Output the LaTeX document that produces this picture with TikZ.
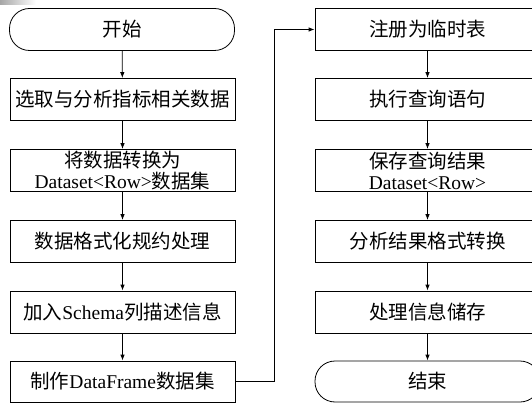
\documentclass[tikz,border=0pt]{standalone}
\usepackage{fontspec}
\setmainfont{Liberation Serif}
\newfontfamily\cjk{Noto Sans CJK SC}
\newcommand{\zh}[1]{{\cjk #1}}
\usetikzlibrary{arrows.meta}
\begin{document}
\begin{tikzpicture}[x=1pt,y=-1pt,
  box/.style={draw,line width=0.8pt,minimum width=225pt,minimum height=42pt,inner sep=0pt,align=center,font=\fontsize{19.5}{21}\selectfont},
  term/.style={box,rounded corners=20pt},
  arr/.style={-{Latex[length=6pt,width=4.5pt]},line width=0.8pt},
  link/.style={line width=0.8pt}]
\useasboundingbox (0,0) rectangle (532,403);
\shade[left color=gray!70,right color=white] (0,0) rectangle (36,5);
% left column
\node[term] (l1) at (122,29.5) {\zh{开始}};
\node[box] (l2) at (122.5,99.5) {\zh{选取与分析指标相关数据}};
\node[box] (l3) at (122.5,170.5) {\zh{将数据转换为}\\Dataset<Row>\zh{数据集}};
\node[box] (l4) at (122.5,241.5) {\zh{数据格式化规约处理}};
\node[box] (l5) at (122.5,312) {\zh{加入}Schema\zh{列描述信息}};
\node[box,minimum height=41pt] (l6) at (122.5,381.5) {\zh{制作}DataFrame\zh{数据集}};
% right column
\node[box] (r1) at (427.5,29.5) {\zh{注册为临时表}};
\node[box] (r2) at (427.5,99.5) {\zh{执行查询语句}};
\node[box] (r3) at (427.5,170.5) {\zh{保存查询结果}\\Dataset<Row>};
\node[box] (r4) at (427.5,241.5) {\zh{分析结果格式转换}};
\node[box] (r5) at (427.5,312) {\zh{处理信息储存}};
\node[term,minimum height=41pt] (r6) at (427.5,381.5) {\zh{结束}};
% arrows
\draw[arr] (l1) -- (l2);
\draw[arr] (l2) -- (l3);
\draw[arr] (l3) -- (l4);
\draw[arr] (l4) -- (l5);
\draw[arr] (l5) -- (l6);
\draw[arr] (r1) -- (r2);
\draw[arr] (r2) -- (r3);
\draw[arr] (r3) -- (r4);
\draw[arr] (r4) -- (r5);
\draw[arr] (r5) -- (r6);
\coordinate (c1) at (274,381.5);
\coordinate (c2) at (274,29.5);
\draw[arr] (l6.east) -- (c1) -- (c2) -- (r1.west);
\end{tikzpicture}
\end{document}
